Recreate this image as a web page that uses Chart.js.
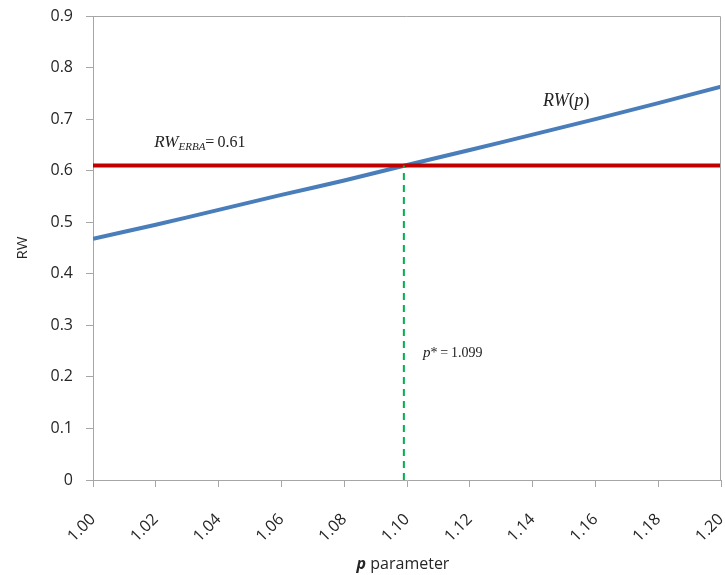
<!DOCTYPE html>
<html>
<head>
<meta charset="utf-8">
<script src="https://cdn.jsdelivr.net/npm/chart.js@4.4.1/dist/chart.umd.min.js"></script>
<style>
    html, body { margin: 0; padding: 0; background: white; }
    #wrap { width: 725px; height: 575px; }
</style>
</head>
<body>
<div id="wrap"><canvas id="rwChart" width="725" height="575"></canvas></div>
<script>
// values
const pValues = [1.00, 1.02, 1.04, 1.06, 1.08, 1.10, 1.12, 1.14, 1.16, 1.18, 1.20]
const rwValues = [0.468, 0.495, 0.524, 0.553, 0.581, 0.611, 0.640, 0.670, 0.700, 0.731, 0.763]
const rwErba = 0.61
const pStar = 1.099
const yTicks = [0, 0.1, 0.2, 0.3, 0.4, 0.5, 0.6, 0.7, 0.8, 0.9]
const xTicks = [1.00, 1.02, 1.04, 1.06, 1.08, 1.10, 1.12, 1.14, 1.16, 1.18, 1.20]

const axisGray = "#a6a6a6"
const textColor = "#262626"
const serif = "'Liberation Serif', 'DejaVu Serif', serif"

// draws a run of text pieces with different fonts / offsets
function drawRun(ctx, x, y, parts){
    ctx.textAlign = "left"
    ctx.textBaseline = "alphabetic"
    for (var i in parts){
        var part = parts[i]
        ctx.font = part.font
        ctx.fillText(part.text, x, y + (part.dy || 0))
        x += ctx.measureText(part.text).width
    }
}

Chart.register({
    id: "extras",
    afterDraw(chart) {
        const ctx = chart.ctx
        const area = chart.chartArea
        const xs = chart.scales.x
        const ys = chart.scales.y
        ctx.save()

        // box round the plot
        ctx.strokeStyle = axisGray
        ctx.lineWidth = 1
        ctx.beginPath()
        ctx.moveTo(area.left, area.top + 0.5)
        ctx.lineTo(area.right - 0.5, area.top + 0.5)
        ctx.lineTo(area.right - 0.5, area.bottom)
        ctx.stroke()

        ctx.fillStyle = "#222"
        drawRun(ctx, xs.getPixelForValue(1.0195), ys.getPixelForValue(0.646), [
            { text: "RW", font: "italic 17px " + serif },
            { text: "ERBA", font: "italic 11px " + serif, dy: 3 },
            { text: "=\u20090.61", font: "16px " + serif }
        ])
        drawRun(ctx, xs.getPixelForValue(1.1433), ys.getPixelForValue(0.725), [
            { text: "RW", font: "italic 18px " + serif },
            { text: "(", font: "18px " + serif },
            { text: "p", font: "italic 18px " + serif },
            { text: ")", font: "18px " + serif }
        ])
        drawRun(ctx, xs.getPixelForValue(1.1051), ys.getPixelForValue(0.2386), [
            { text: "p", font: "italic 15px " + serif },
            { text: "*\u2009=\u20091.099", font: "14px " + serif }
        ])

        // x axis title: bold italic p + plain word
        ctx.fillStyle = textColor
        const boldP = "italic bold 16px 'Open Sans'"
        const plain = "16px 'Open Sans'"
        ctx.font = boldP
        var w1 = ctx.measureText("p").width
        ctx.font = plain
        var w2 = ctx.measureText(" parameter").width
        var startX = (area.left + area.right) / 2 - 4 - (w1 + w2) / 2
        drawRun(ctx, startX, 569, [
            { text: "p", font: boldP },
            { text: " parameter", font: plain }
        ])
        ctx.restore()
    }
})

const ctx = document.getElementById("rwChart").getContext("2d")
const chart = new Chart(ctx, {
    type: "line",
    data: {
        datasets: [{
            label: "RW(p)",
            data: pValues.map((p, i) => ({ x: p, y: rwValues[i] })),
            borderColor: "#4a7ebb",
            borderWidth: 4,
            pointRadius: 0,
            tension: 0.3,
            order: 2
        }, {
            label: "RW ERBA",
            data: [{ x: xTicks[0], y: rwErba }, { x: xTicks[xTicks.length - 1], y: rwErba }],
            borderColor: "#c00000",
            borderWidth: 4,
            pointRadius: 0,
            order: 1
        }, {
            label: "p*",
            data: [{ x: pStar, y: 0 }, { x: pStar, y: rwErba }],
            borderColor: "#00b050",
            borderWidth: 2,
            borderDash: [7, 5],
            pointRadius: 0,
            order: 0
        }]
    },
    options: {
        responsive: false,
        animation: false,
        layout: { padding: { top: 16, right: 4, left: 0, bottom: 0 } },
        plugins: {
            legend: { display: false },
            tooltip: { enabled: false }
        },
        scales: {
            x: {
                type: "linear",
                min: xTicks[0],
                max: xTicks[xTicks.length - 1],
                afterBuildTicks: (scale) => { scale.ticks = xTicks.map(v => ({ value: v })) },
                afterFit: (scale) => {
                    scale.height = 95
                    scale.paddingRight = 0
                    scale.paddingLeft = 0
                    scale.paddingTop = 0
                    scale.paddingBottom = 0
                },
                grid: { drawOnChartArea: false, drawTicks: true, tickLength: 7, color: axisGray },
                border: { color: axisGray },
                ticks: {
                    minRotation: 45,
                    maxRotation: 45,
                    padding: 23,
                    color: textColor,
                    font: { family: "'Open Sans'", size: 16 },
                    callback: (v) => Number(v).toFixed(2)
                }
            },
            y: {
                min: 0,
                max: 0.9,
                afterBuildTicks: (scale) => { scale.ticks = yTicks.map(v => ({ value: v })) },
                afterFit: (scale) => {
                    scale.width = 93
                    scale.paddingTop = 0
                    scale.paddingBottom = 0
                },
                grid: { drawOnChartArea: false, drawTicks: true, tickLength: 7, color: axisGray },
                border: { color: axisGray },
                ticks: {
                    padding: 13,
                    color: textColor,
                    font: { family: "'Open Sans'", size: 16 },
                    callback: (v) => v == 0 ? "0" : Number(v).toFixed(1)
                },
                title: {
                    display: true,
                    text: "RW",
                    color: textColor,
                    font: { family: "'Open Sans'", size: 15 },
                    padding: { top: 14, bottom: 0 }
                }
            }
        }
    }
})
</script>
</body>
</html>
